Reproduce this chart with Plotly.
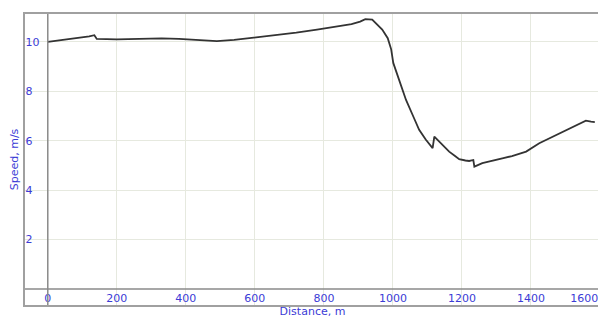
import plotly.graph_objects as go

distance = [0, 60, 120, 135, 142, 200, 260, 300, 330, 380, 440, 490, 540, 600, 660, 720, 780, 840, 880, 905, 920, 940, 969, 985, 995, 1001, 1020, 1038, 1060, 1076, 1095, 1105, 1115, 1120, 1134, 1150, 1163, 1180, 1192, 1210, 1221, 1233, 1236, 1259, 1288, 1320, 1345, 1386, 1424, 1472, 1520, 1559, 1574, 1585]
speed = [10.0, 10.1, 10.22, 10.27, 10.12, 10.1, 10.12, 10.15, 10.14, 10.12, 10.08, 10.03, 10.08, 10.17, 10.27, 10.38, 10.5, 10.62, 10.72, 10.82, 10.92, 10.9, 10.5, 10.15, 9.7, 9.15, 8.35, 7.65, 6.95, 6.44, 6.05, 5.88, 5.7, 6.17, 5.97, 5.75, 5.56, 5.38, 5.25, 5.2, 5.18, 5.22, 4.95, 5.09, 5.2, 5.3, 5.38, 5.56, 5.9, 6.23, 6.57, 6.81, 6.77, 6.75]

x_ticks = [0, 200, 400, 600, 800, 1000, 1200, 1400, 1600]
# the last label is padded so it sits fully inside the frame, as in the original
x_labels = ["0", "200", "400", "600", "800", "1000", "1200", "1400", "1600" + "\u00a0" * 9]
y_ticks = [2, 4, 6, 8, 10]

blue = "#3b3bd6"
font_family = "DejaVu Sans"

fig = go.Figure()
fig.add_trace(go.Scatter(x=distance, y=speed, mode="lines",
                         line=dict(color="#333333", width=1.8),
                         showlegend=False, hoverinfo="skip"))

# page has an 8px body margin, so the figure is sized to fit the 606x320 window
fig.update_layout(
    width=598, height=312,
    margin=dict(l=17, r=6, t=6, b=15),
    paper_bgcolor="white", plot_bgcolor="white",
    font=dict(family=font_family, size=11, color=blue),
)
fig.update_xaxes(
    range=[-66, 1600], tickvals=x_ticks, ticktext=x_labels,
    ticklabelposition="inside", ticklabeloverflow="allow", ticks="",
    automargin=False,
    showgrid=True, gridcolor="#e6e9df", gridwidth=1,
    zeroline=False,
    showline=True, mirror=True, linecolor="#a0a0a0", linewidth=1.5,
    tickfont=dict(family=font_family, size=11, color=blue),
    title=dict(text="Distance, m", font=dict(family=font_family, size=11, color=blue), standoff=0),
)
fig.update_yaxes(
    range=[-0.65, 11.13], tickvals=y_ticks, ticktext=[str(v) for v in y_ticks],
    ticklabelposition="inside", ticks="",
    automargin=False,
    showgrid=True, gridcolor="#e6e9df", gridwidth=1,
    zeroline=False,
    showline=True, mirror=True, linecolor="#a0a0a0", linewidth=1.5,
    tickfont=dict(family=font_family, size=11, color=blue),
    title=dict(text="Speed, m/s", font=dict(family=font_family, size=11, color=blue), standoff=6),
)
# axis lines at x=0 and y=0 drawn as shapes in data coordinates
fig.add_shape(type="line", xref="x", yref="paper", x0=0, x1=0, y0=0, y1=1,
              line=dict(color="#8a8a8a", width=1.5))
fig.add_shape(type="line", xref="paper", yref="y", x0=0, x1=1, y0=0, y1=0,
              line=dict(color="#8a8a8a", width=1.5))

fig.write_html("out.html")
